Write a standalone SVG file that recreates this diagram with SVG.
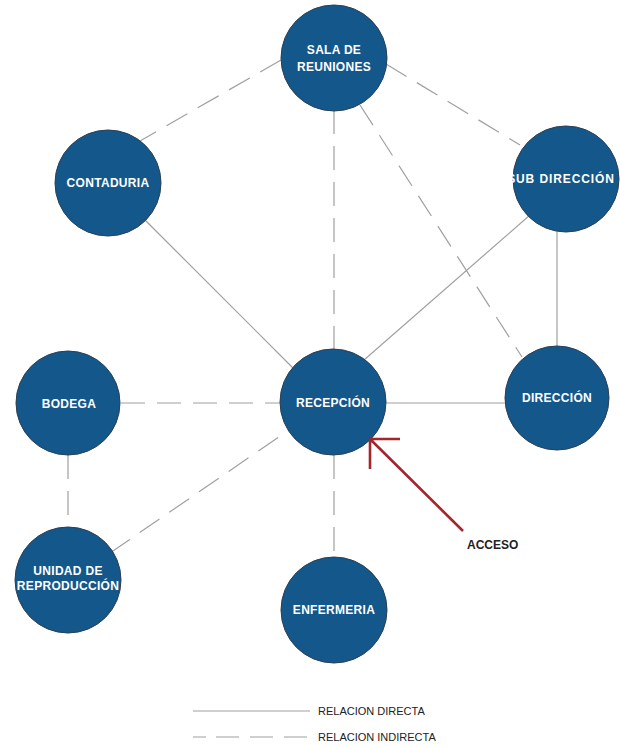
<svg xmlns="http://www.w3.org/2000/svg" width="620" height="747" viewBox="0 0 620 747">
<style>
.bg{fill:#ffffff}
.node circle{fill:#14578a;stroke:#2a3f55;stroke-width:1}
.node text{fill:#ffffff;font-family:"Liberation Sans",Arial,sans-serif;font-weight:bold;font-size:12px;text-anchor:middle;letter-spacing:0.3px}
.solid{stroke:#a0a0a0;stroke-width:1.2;fill:none}
.dash{stroke:#a0a0a0;stroke-width:1.2;fill:none;stroke-dasharray:24 12}
.legend{fill:#222222;font-family:"Liberation Sans",Arial,sans-serif;font-size:11px}
.acc{fill:#222222;font-family:"Liberation Sans",Arial,sans-serif;font-weight:bold;font-size:12px}
.arrow{stroke:#a3262a;stroke-width:2.6;fill:none}
</style>
<rect class="bg" x="0" y="0" width="620" height="747"/>
<g id="connectors">
<line class="dash" x1="281" y1="60" x2="140" y2="141"/>
<line class="dash" x1="386" y1="64" x2="520" y2="145"/>
<line class="dash" x1="334" y1="110" x2="334" y2="350"/>
<line class="dash" x1="360" y1="105" x2="522" y2="357"/>
<line class="solid" x1="145" y1="220" x2="293" y2="368"/>
<line class="solid" x1="530" y1="215" x2="364" y2="360"/>
<line class="solid" x1="557" y1="232" x2="557" y2="346"/>
<line class="solid" x1="386" y1="403" x2="505" y2="403"/>
<line class="dash" x1="121" y1="403" x2="280" y2="403"/>
<line class="dash" x1="68" y1="455" x2="68" y2="527"/>
<line class="dash" x1="110" y1="553" x2="289" y2="430"/>
<line class="dash" x1="334" y1="455" x2="334" y2="557"/>
</g>
<g id="contaduria" class="node"><circle cx="108" cy="183" r="53"/><text x="108" y="187">CONTADURIA</text></g>
<g id="subdireccion" class="node"><circle cx="566" cy="179" r="53"/><text x="561" y="183" style="letter-spacing:0.9px">SUB DIRECCIÓN</text></g>
<g id="sala-de-reuniones" class="node"><circle cx="334" cy="58" r="53"/><text x="334" y="54">SALA DE</text><text x="334" y="71">REUNIONES</text></g>
<g id="recepcion" class="node"><circle cx="333" cy="402" r="53"/><text x="333" y="407">RECEPCIÓN</text></g>
<g id="direccion" class="node"><circle cx="557" cy="398" r="52"/><text x="557" y="402">DIRECCIÓN</text></g>
<g id="bodega" class="node"><circle cx="68" cy="403" r="52"/><text x="69" y="408">BODEGA</text></g>
<g id="unidad" class="node"><circle cx="68" cy="580" r="53"/><text x="68" y="575">UNIDAD DE</text><text x="68" y="590">REPRODUCCIÓN</text></g>
<g id="enfermeria" class="node"><circle cx="334" cy="610" r="53"/><text x="334" y="614">ENFERMERIA</text></g>
<g id="acceso">
<path class="arrow" d="M463 531 L370 439 M370 439 L400 439 M370 439 L370 469"/>
<text class="acc" x="467" y="549">ACCESO</text>
</g>
<g id="legend">
<line class="solid" x1="193" y1="711" x2="310" y2="711"/>
<text class="legend" x="318" y="715">RELACION DIRECTA</text>
<line class="solid" x1="193" y1="737" x2="310" y2="737" stroke-dasharray="13 10 23 11 23 11 23 11"/>
<text class="legend" x="318" y="741">RELACION INDIRECTA</text>
</g>
</svg>
